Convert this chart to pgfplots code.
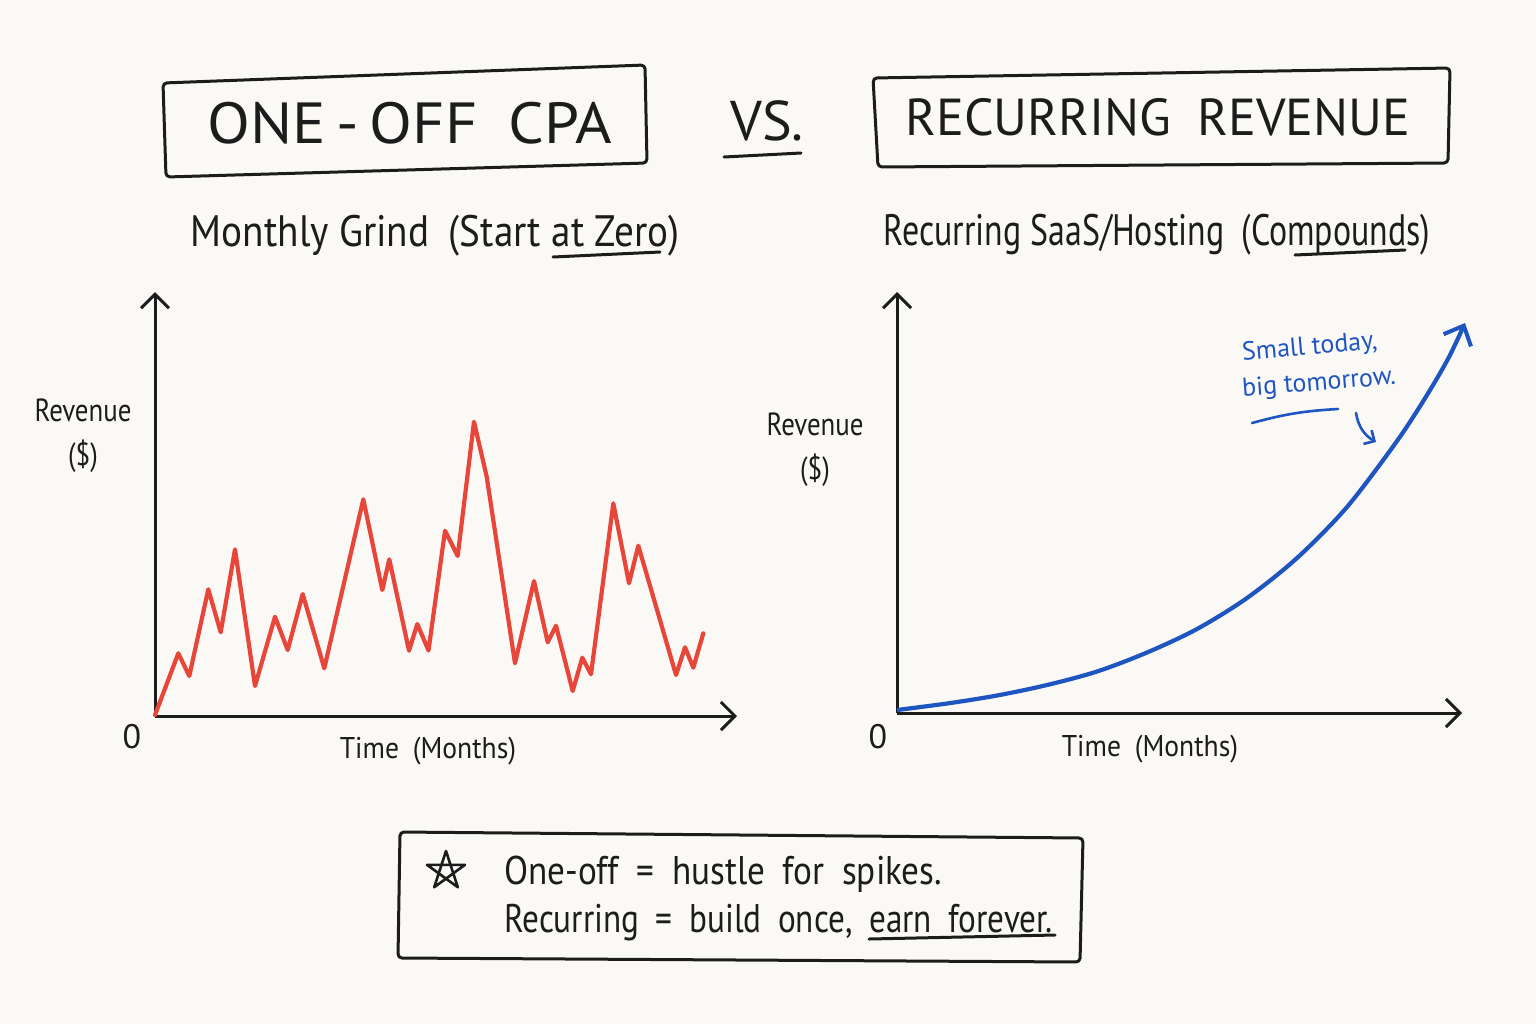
\documentclass[border=0pt]{standalone}
\usepackage{pgfplots}
\pgfplotsset{compat=1.18}
\usepackage{fontspec}
\setmainfont{PT Sans}
\usetikzlibrary{arrows.meta}

\definecolor{paper}{HTML}{FAF9F6}
\definecolor{ink}{HTML}{1C1C1C}
\definecolor{spikered}{HTML}{E8463A}
\definecolor{growblue}{HTML}{1F55C0}

\newcommand\fs[1]{\fontsize{#1}{#1}\selectfont}

\begin{document}
\begin{tikzpicture}[x=0.5pt,y=-0.5pt,
  hand/.style={ink, line width=1.5pt, line cap=round, line join=round, rounded corners=2pt},
  barb/.style={-{Straight Barb[length=7pt,width=14pt,line width=1.5pt]}}]
\fill[paper] (0,0) rectangle (1536,1024);

% header boxes
\draw[hand] (163,83) -- (645,65) -- (647,163) -- (166,177) -- cycle;
\node[ink, font=\fs{29}, xscale=1.08] at (410,123) {ONE\,-\,OFF\enspace CPA};
\node[ink, font=\fs{28}] at (767,121) {VS.};
\draw[hand] (724,157) -- (801,153);
\draw[hand] (873,78) -- (1450,68) -- (1448,163) -- (878,167) -- cycle;
\node[ink, font=\fs{26}, xscale=1.0] at (1158,117) {RECURRING\enspace REVENUE};

% panel subtitles
\node[ink, font=\fs{22}, xscale=0.89] at (435,236) {Monthly Grind\enspace(Start at Zero)};
\draw[hand] (553,257) -- (660,252);
\node[ink, font=\fs{22}, xscale=0.77] at (1157,235) {Recurring SaaS/Hosting\enspace(Compounds)};
\draw[hand] (1295,255) -- (1405,250);

% axis titles
\node[ink, font=\fs{16}, xscale=0.84, align=center] at (83,436) {Revenue\\[6pt](\$)};
\node[ink, font=\fs{16}, xscale=0.84, align=center] at (815,450) {Revenue\\[6pt](\$)};
\node[ink, font=\fs{17}] at (132,737) {0};
\node[ink, font=\fs{17}] at (878,737) {0};
\node[ink, font=\fs{15}, xscale=0.92] at (428,751) {Time\enspace(Months)};
\node[ink, font=\fs{15}, xscale=0.92] at (1150,749) {Time\enspace(Months)};

% one-off revenue: irregular monthly spikes
\begin{axis}[at={(77.5pt,-358pt)}, anchor=south west, scale only axis,
  width=291pt, height=212pt, xmin=0, xmax=582, ymin=0, ymax=424,
  axis lines=left, xtick=\empty, ytick=\empty, clip=false,
  axis line style={ink, line width=1.5pt},
  every outer x axis line/.append style={barb},
  every outer y axis line/.append style={barb}]
\addplot[spikered, line width=2.1pt, line join=round, line cap=round] coordinates {
 (0,1) (23.3,62.7) (34.3,40) (53.3,126.7) (65.7,83.7) (80,166.7)
 (100,30) (120,99.3) (132.7,66) (147.7,122) (169.3,47.7) (208.3,216.7)
 (227.3,126) (234.3,156.7) (254,65.3) (262.3,92) (273.5,65.5) (290,185.3)
 (302.7,160) (319,294.3) (331.7,239.3) (360,52.7) (379,135) (392.7,73.7)
 (401,90.3) (417.7,25) (427.3,58.3) (436,41.7) (458.3,212.7) (474,132.7)
 (483.3,170.3) (521,41) (530,68.7) (538.3,48.3) (548.3,82.7)};
\end{axis}

% recurring revenue: compounding curve
\begin{axis}[at={(448.5pt,-356.5pt)}, anchor=south west, scale only axis,
  width=282.5pt, height=210.5pt, xmin=0, xmax=565, ymin=0, ymax=421,
  axis lines=left, xtick=\empty, ytick=\empty, clip=false,
  axis line style={ink, line width=1.5pt},
  every outer x axis line/.append style={barb},
  every outer y axis line/.append style={barb}]
\addplot[growblue, line width=2.1pt, smooth, -{Straight Barb[length=8pt,width=15pt,line width=2pt]}] coordinates {
 (0,3) (50,9.5) (100,17.5) (150,28) (200,41.5) (250,60.5) (300,84)
 (350,115) (400,155) (450,206) (500,272) (530,318) (552,356) (568,390)};
\end{axis}

% annotation on the curve
\node[growblue, font=\fs{13}, rotate=5, anchor=west, inner sep=1pt] at (1240,354) {Small today,};
\node[growblue, font=\fs{13}, rotate=4.5, anchor=west, inner sep=1pt] at (1240,390) {big tomorrow.};
\draw[growblue, line width=1.3pt, line cap=round] (1252,423) to[bend left=6] (1338,409);
\draw[growblue, line width=1.3pt, line cap=round, -{Straight Barb[length=4pt,width=8pt]}] (1356,413) to[bend right=25] (1376,442);

% takeaway box
\draw[hand] (400,832) -- (1083,838) -- (1080,962) -- (398,958) -- cycle;
\draw[ink, line width=1.3pt, line join=round] (446,851) -- (434.2,887.2) -- (465,864.8) -- (427,864.8) -- (457.8,887.2) -- cycle;
\node[ink, font=\fs{20}, xscale=0.88, anchor=base west, inner sep=0pt] at (504,884) {One-off\enspace=\enspace hustle\enspace for\enspace spikes.};
\node[ink, font=\fs{20}, xscale=0.83, anchor=base west, inner sep=0pt] at (504,932) {Recurring\enspace=\enspace build\enspace once,\enspace earn\enspace forever.};
\draw[hand] (869,939) -- (1055,935);
\end{tikzpicture}
\end{document}
